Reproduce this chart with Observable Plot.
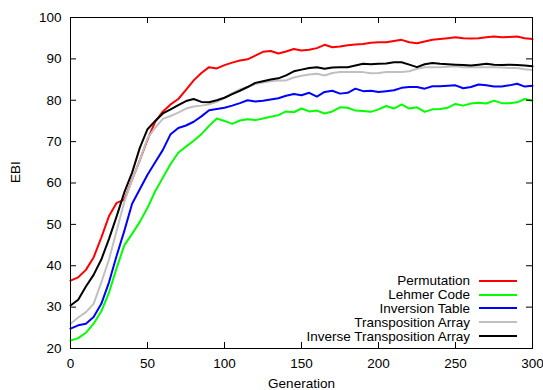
<!DOCTYPE html>
<html><head><meta charset="utf-8">
<script src="https://cdn.jsdelivr.net/npm/d3@7"></script>
<script src="https://cdn.jsdelivr.net/npm/@observablehq/plot@0.6"></script>
<style>
body{margin:0;background:#fff;}
#wrap{position:relative;width:543px;height:390px;font-family:"Liberation Sans",Arial,sans-serif;}
#legend{position:absolute;right:26px;top:274px;font-size:13.5px;color:#000;}
.row{display:flex;justify-content:flex-end;align-items:center;height:13.8px;white-space:nowrap;}
.sw{display:inline-block;width:38px;height:2px;margin-left:9px;}
</style></head>
<body><div id="wrap"></div>
<script>
const gens = [0,5,10,15,20,25,30,35,40,45,50,55,60,65,70,75,80,85,90,95,100,105,110,115,120,125,130,135,140,145,150,155,160,165,170,175,180,185,190,195,200,205,210,215,220,225,230,235,240,245,250,255,260,265,270,275,280,285,290,295,300];

const permutation = [36.4,37.2,39.0,42.0,46.8,52.0,55.2,56.0,60.8,65.5,70.5,74.8,77.3,79.0,80.3,82.5,84.8,86.6,88.0,87.7,88.5,89.1,89.6,89.9,90.8,91.7,91.9,91.3,91.8,92.4,92.0,92.2,92.6,93.4,92.8,93.0,93.3,93.5,93.6,93.9,94.0,94.0,94.3,94.6,94.0,93.8,94.2,94.6,94.8,95.0,95.2,95.0,94.9,95.0,95.2,95.4,95.2,95.3,95.4,95.0,94.8];

const lehmerCode = [21.9,22.5,23.8,26.0,29.0,33.5,39.5,45.0,47.7,50.6,54.0,58.0,61.3,64.6,67.3,68.8,70.2,71.8,73.8,75.6,75.0,74.3,75.1,75.4,75.2,75.6,76.0,76.4,77.3,77.1,78.0,77.3,77.5,76.8,77.3,78.3,78.2,77.5,77.4,77.2,77.8,78.6,78.0,79.0,78.0,78.3,77.2,77.8,77.9,78.2,79.1,78.7,79.2,79.4,79.2,79.9,79.3,79.3,79.5,80.3,79.9];

const inversionTable = [24.8,25.6,26.0,27.6,30.8,36.0,42.5,48.5,55.0,58.5,62.0,65.0,68.0,71.8,73.3,73.9,74.8,76.1,77.6,77.9,78.2,78.7,79.3,80.0,79.7,79.9,80.2,80.5,81.1,81.5,81.2,81.8,80.9,82.0,82.3,81.6,81.8,82.8,82.2,82.3,82.0,82.2,82.4,83.0,83.2,83.2,82.8,83.4,83.4,83.5,83.6,82.9,83.2,83.8,83.6,83.3,83.3,83.6,84.0,83.3,83.5];

const transpositionArray = [26.0,27.5,28.8,30.8,36.0,41.5,48.5,55.5,60.8,65.5,70.8,73.4,75.5,76.2,77.0,78.0,78.5,78.7,79.0,79.6,80.6,81.7,82.6,83.2,83.9,84.3,84.6,84.8,84.8,85.5,85.9,86.2,86.4,86.0,86.6,86.8,86.8,86.8,86.8,86.5,86.6,86.8,86.8,86.8,87.0,87.6,88.0,88.0,88.0,88.1,88.2,88.0,88.0,88.0,88.0,88.0,87.9,87.8,87.8,87.5,87.3];

const inverseTranspositionArray = [30.4,31.8,35.0,37.8,41.5,46.5,52.0,57.8,62.5,68.5,73.0,75.0,76.8,77.8,78.8,79.8,80.3,79.6,79.5,80.0,80.6,81.5,82.3,83.2,84.2,84.6,85.0,85.3,86.0,87.0,87.4,87.8,88.0,87.6,87.9,88.0,88.0,88.4,88.8,88.7,88.8,88.9,89.2,89.2,88.6,88.0,88.7,89.0,88.8,88.7,88.6,88.5,88.4,88.6,88.8,88.6,88.5,88.6,88.5,88.4,88.2];

const seriesNames = ["Permutation","Lehmer Code","Inversion Table","Transposition Array","Inverse Transposition Array"];
const seriesColors = ["#ff0000","#00ff00","#0000ff","#c0c0c0","#000000"];
const xTicks = [0,50,100,150,200,250,300];
const yTicks = [20,30,40,50,60,70,80,90,100];

const seriesValues = [permutation, lehmerCode, inversionTable, transpositionArray, inverseTranspositionArray];
const rows = [];
seriesNames.forEach((name, i) => gens.forEach((g, j) => rows.push({s: name, g, v: seriesValues[i][j]})));

const W = 543, H = 390, ML = 70, MR = 11, MT = 17, MB = 42;
const innerW = W - ML - MR, innerH = H - MT - MB, tickLen = 6;

const chart = Plot.plot({
  width: W, height: H,
  marginLeft: ML, marginRight: MR, marginTop: MT, marginBottom: MB,
  style: {fontFamily: '"Liberation Sans", Arial, sans-serif', fontSize: "13.5px", color: "#000", background: "#fff", overflow: "visible"},
  x: {domain: [0, 300]},
  y: {domain: [20, 100]},
  color: {domain: seriesNames, range: seriesColors},
  marks: [
    Plot.line(rows, {x: "g", y: "v", z: "s", stroke: "s", strokeWidth: 2}),
    Plot.frame({stroke: "#000", strokeWidth: 1}),
    Plot.tickX(xTicks, {x: d => d, insetTop: innerH - tickLen, stroke: "#000"}),
    Plot.tickX(xTicks, {x: d => d, insetBottom: innerH - tickLen, stroke: "#000"}),
    Plot.tickY(yTicks, {y: d => d, insetRight: innerW - tickLen, stroke: "#000"}),
    Plot.tickY(yTicks, {y: d => d, insetLeft: innerW - tickLen, stroke: "#000"}),
    Plot.axisX(xTicks, {tickSize: 0, tickPadding: 10, label: null}),
    Plot.axisY(yTicks, {tickSize: 0, tickPadding: 9, label: null}),
    Plot.text(["Generation"], {text: d => d, frameAnchor: "bottom", lineAnchor: "top", dy: 30}),
    Plot.text(["EBI"], {text: d => d, frameAnchor: "left", rotate: -90, dx: -55})
  ]
});

const wrap = document.getElementById("wrap");
wrap.appendChild(chart);
const legend = document.createElement("div");
legend.id = "legend";
seriesNames.forEach((name, i) => {
  const row = document.createElement("div");
  row.className = "row";
  const label = document.createElement("span");
  label.textContent = name;
  const sw = document.createElement("span");
  sw.className = "sw";
  sw.style.background = seriesColors[i];
  row.appendChild(label);
  row.appendChild(sw);
  legend.appendChild(row);
});
wrap.appendChild(legend);
</script>
</body></html>
